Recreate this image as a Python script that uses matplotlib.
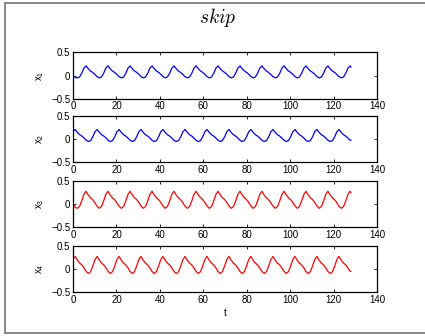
import numpy as np
import matplotlib
matplotlib.use("Agg")
from matplotlib import pyplot as plt
from matplotlib.lines import Line2D

plt.rcParams['font.family'] = ['Liberation Sans', 'DejaVu Sans']
plt.rcParams['mathtext.fontset'] = 'custom'
plt.rcParams['mathtext.rm'] = 'Liberation Sans'
plt.rcParams['mathtext.it'] = 'Liberation Sans:italic'

# troughs (x1/x3 share phase A, x2/x4 phase B)
troughs_a = [2.0, 12.1, 22.3, 32.4, 42.5, 52.7, 62.8, 72.9, 83.0, 93.2, 103.3, 113.4, 123.6]
troughs_b = [-3.0, 7.1, 17.2, 27.3, 37.4, 47.6, 57.7, 67.8, 77.9, 88.1, 98.2, 108.3, 118.5]

# one cycle, measured from a trough: offset (t) and value
cycle_dt = [0.0, 1.0, 2.0, 3.0, 4.0, 5.0, 6.0, 7.0, 8.0, 9.0]
cycle_small = [-0.05, -0.03, 0.05, 0.16, 0.21, 0.15, 0.10, 0.07, 0.03, -0.02]
cycle_big = [-0.10, -0.06, 0.06, 0.20, 0.27, 0.19, 0.13, 0.09, 0.03, -0.05]

# start of the x1/x3 traces before the first trough
head_t = [0.0, 1.0]
head_x1 = [0.0, -0.04]
head_x3 = [0.0, -0.08]
t_end = 128.0

colors = ['#0000ff', '#0000ff', '#ff0000', '#ff0000']
labels = ['x$_{1}$', 'x$_{2}$', 'x$_{3}$', 'x$_{4}$']


def build(troughs, shape, head_t=None, head_v=None):
    t = [] if head_t is None else list(head_t)
    v = [] if head_v is None else list(head_v)
    for tr in troughs:
        for dt, val in zip(cycle_dt, shape):
            t.append(tr + dt)
            v.append(val)
    t = np.array(t)
    v = np.array(v)
    keep = (t >= 0) & (t <= t_end)
    t_in, v_in = t[keep], v[keep]
    # close the trace exactly at t_end / t = 0
    t_in = np.append(t_in, t_end)
    v_in = np.append(v_in, np.interp(t_end, t, v))
    if t_in[0] > 0:
        t_in = np.insert(t_in, 0, 0.0)
        v_in = np.insert(v_in, 0, np.interp(0.0, t, v))
    return t_in, v_in


series = [
    build(troughs_a, cycle_small, head_t, head_x1),
    build(troughs_b, cycle_small),
    build(troughs_a, cycle_big, head_t, head_x3),
    build(troughs_b, cycle_big),
]

fig = plt.figure(figsize=(4.25, 3.36), dpi=100)
# grey frame: left, top and bottom edges only
fx0, fy0, fy1 = 0.0106, 0.0089, 0.9896
for xs, ys in [([fx0, fx0], [fy0, fy1]), ([fx0, 1.0], [fy1, fy1]), ([fx0, 1.0], [fy0, fy0])]:
    fig.add_artist(Line2D(xs, ys, transform=fig.transFigure, color='#7f7f7f', linewidth=1.3))

bottoms = [0.7063, 0.5170, 0.3250, 0.1310]
for i, (t, v) in enumerate(series):
    ax = fig.add_axes([0.1718, bottoms[i], 0.7153, 0.1375])
    ax.plot(t, v, color=colors[i], linewidth=0.9)
    ax.set_xlim(0, 140)
    ax.set_ylim(-0.5, 0.5)
    ax.set_xticks(np.arange(0, 141, 20))
    ax.set_yticks([-0.5, 0, 0.5])
    ax.set_yticklabels(['\u22120.5', '0', '0.5'])
    ax.tick_params(direction='in', top=True, right=True, labelsize=7, length=2.5,
                   width=0.6, pad=2)
    for s in ax.spines.values():
        s.set_linewidth(0.9)
    ax.set_ylabel(labels[i], fontsize=7, labelpad=4)
    if i == 3:
        ax.set_xlabel('t', fontsize=7, labelpad=2)

fig.text(0.513, 0.948, '$skip$', ha='center', va='center', fontsize=14,
         math_fontfamily='cm')

fig.savefig('out.png', dpi=100)
